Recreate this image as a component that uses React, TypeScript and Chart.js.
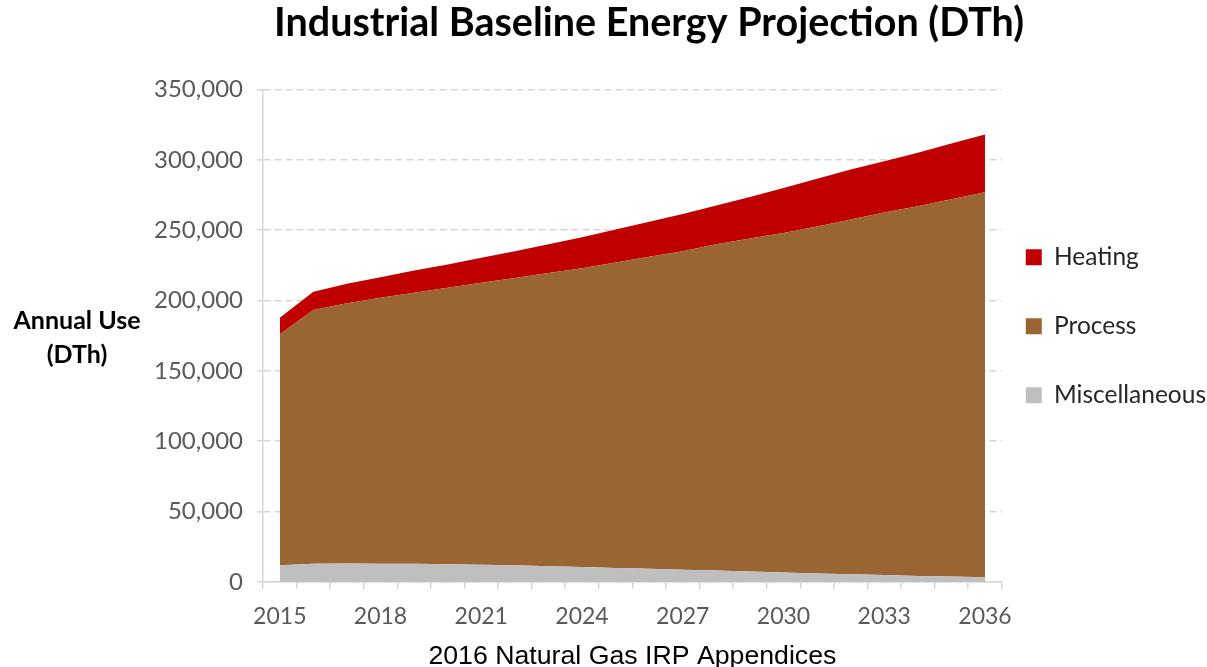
import React, { useEffect, useRef } from 'react';
import { Chart, registerables } from 'chart.js';

Chart.register(...registerables);

const years = [
  '2015', '2016', '2017', '2018', '2019', '2020', '2021', '2022', '2023', '2024', '2025',
  '2026', '2027', '2028', '2029', '2030', '2031', '2032', '2033', '2034', '2035', '2036',
];
const labeledYears = ['2015', '2018', '2021', '2024', '2027', '2030', '2033', '2036'];

const miscellaneous = [
  11800, 13000, 13100, 13000, 12900, 12600, 12300, 11800, 11200, 10600, 10000,
  9400, 8700, 8100, 7400, 6800, 6100, 5500, 4900, 4300, 3800, 3300,
];
const processUse = [
  164200, 180200, 184900, 189000, 192600, 196400, 200300, 204200, 208300, 212400, 217000,
  221600, 226300, 231900, 236600, 241200, 246400, 252000, 257600, 262700, 268200, 273700,
];
const heating = [
  11800, 13000, 13900, 14600, 15800, 16600, 17700, 19000, 20500, 22000, 23500,
  25000, 26500, 27500, 29500, 32000, 34000, 35500, 36500, 38000, 39500, 41000,
];

const yMin = 0;
const yMax = 350000;
const yStep = 50000;

const titleText = 'Industrial Baseline Energy Projection (DTh)';
const yTitleLines = ['Annual Use', '(DTh)'];
const xTitleText = '2016 Natural Gas IRP Appendices';

const COLOR_MISC = '#BFBFBF';
const COLOR_PROCESS = '#996633';
const COLOR_HEATING = '#C00000';
const GRID = '#D6D6D6';
const TICK_TEXT = '#595959';

const yTitlePlugin = {
  id: 'yTitleHorizontal',
  afterDraw(chart: any) {
    const ctx = chart.ctx;
    ctx.save();
    ctx.font = 'bold 25px Lato';
    ctx.fillStyle = '#000000';
    ctx.textAlign = 'center';
    ctx.textBaseline = 'middle';
    const cy = (chart.chartArea.top + chart.chartArea.bottom) / 2;
    ctx.fillText(yTitleLines[0], 77, cy - 15);
    ctx.fillText(yTitleLines[1], 77, cy + 19);
    ctx.restore();
  },
};

export default function App() {
  const canvasRef = useRef<HTMLCanvasElement | null>(null);

  useEffect(() => {
    if (!canvasRef.current) return;
    Chart.defaults.font.family = 'Lato';
    const baseGenerate = Chart.defaults.plugins.legend.labels.generateLabels;
    const chart = new Chart(canvasRef.current, {
      type: 'line',
      data: {
        labels: years,
        datasets: [
          {
            label: 'Miscellaneous',
            data: miscellaneous,
            backgroundColor: COLOR_MISC,
            borderColor: 'rgba(0,0,0,0)',
            borderWidth: 1,
            pointRadius: 0,
            fill: 'origin',
            tension: 0,
          },
          {
            label: 'Process',
            data: processUse,
            backgroundColor: COLOR_PROCESS,
            borderColor: 'rgba(0,0,0,0)',
            borderWidth: 1,
            pointRadius: 0,
            fill: '-1',
            tension: 0,
          },
          {
            label: 'Heating',
            data: heating,
            backgroundColor: COLOR_HEATING,
            borderColor: 'rgba(0,0,0,0)',
            borderWidth: 1,
            pointRadius: 0,
            fill: '-1',
            tension: 0,
          },
        ],
      },
      options: {
        responsive: false,
        animation: false,
        layout: { padding: { left: 82, right: -9, top: 0, bottom: 0 } },
        plugins: {
          legend: {
            display: true,
            position: 'right',
            align: 'center',
            reverse: true,
            labels: {
              boxWidth: 16,
              boxHeight: 16,
              padding: 24,
              color: '#262626',
              font: { family: 'Lato', size: 24.5, lineHeight: '45px' },
              generateLabels: (c: any) =>
                baseGenerate(c).map((item: any) => ({
                  ...item,
                  text: [item.text],
                  fillStyle: c.data.datasets[item.datasetIndex].backgroundColor,
                  strokeStyle: 'rgba(0,0,0,0)',
                  lineWidth: 0,
                })),
            },
          },
          tooltip: { enabled: false },
          title: {
            display: true,
            text: titleText,
            color: '#000000',
            font: { family: 'Lato', size: 39.5, weight: 'bold' },
            padding: { top: 0, bottom: 42 },
          },
        },
        scales: {
          x: {
            type: 'category',
            offset: true,
            grid: {
              offset: true,
              drawOnChartArea: false,
              color: GRID,
              lineWidth: 1.5,
              tickLength: 7,
              tickBorderDash: [],
            },
            border: { color: GRID, width: 1.5 },
            ticks: {
              autoSkip: false,
              maxRotation: 0,
              minRotation: 0,
              color: TICK_TEXT,
              font: { family: 'Lato', size: 23, lineHeight: 1 },
              padding: 16,
              callback: (_v: any, i: number) => (labeledYears.includes(years[i]) ? years[i] : ''),
            },
            title: {
              display: true,
              text: xTitleText,
              color: '#000000',
              font: { family: 'Liberation Sans', size: 26.7 },
              padding: { top: -3, bottom: 0 },
            },
          },
          y: {
            stacked: true,
            min: yMin,
            max: yMax,
            afterFit: (scale: any) => {
              scale.width = 181;
            },
            grid: {
              color: GRID,
              lineWidth: 1.6,
              tickLength: 6,
              tickBorderDash: [],
            },
            border: { color: GRID, width: 1.5, dash: [7, 4] },
            ticks: {
              stepSize: yStep,
              color: TICK_TEXT,
              font: { family: 'Lato', size: 24 },
              padding: 14,
              callback: (v: any) => Number(v).toLocaleString('en-US'),
            },
          },
        },
      },
      plugins: [yTitlePlugin],
    });
    return () => chart.destroy();
  }, []);

  return (
    <div style={{ position: 'absolute', left: 0, top: 0, width: 1207, height: 673, background: '#ffffff' }}>
      <canvas ref={canvasRef} width={1207} height={673} />
    </div>
  );
}
